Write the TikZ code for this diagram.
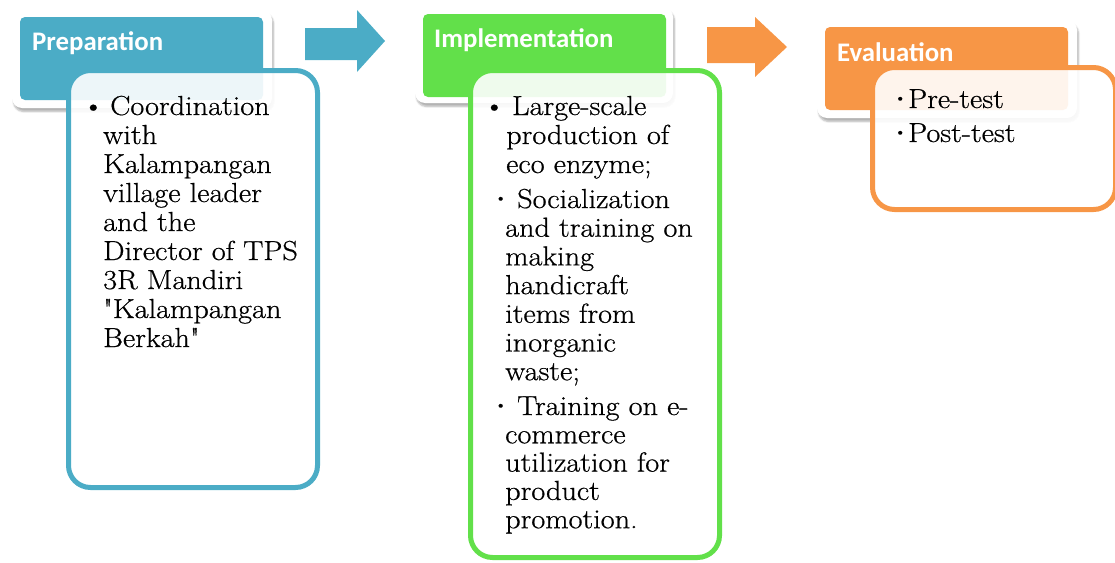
\documentclass[tikz,border=0pt]{standalone}
\usepackage{fontspec}
\usepackage{graphicx}
\usetikzlibrary{shadows.blur}
\newfontfamily\headfont{Carlito}
\newfontfamily\bodyfont[FakeStretch=1.1, FakeBold=0.6]{Latin Modern Roman}

\definecolor{prepc}{HTML}{4BACC6}
\definecolor{implc}{HTML}{62E04A}
\definecolor{evalc}{HTML}{F79646}

% small raised bullet of zero width, centred on the current point
\newcommand{\smallbul}{\makebox[0pt]{\raisebox{4.8pt}{\scalebox{0.6}{\textbullet}}}}

\tikzset{
  headframe/.style={rectangle, rounded corners=10pt, fill=white, inner sep=0pt,
    blur shadow={shadow xshift=1.5pt, shadow yshift=-3.5pt, shadow blur steps=6, shadow opacity=30}},
  headfill/.style={rectangle, rounded corners=5pt, fill=#1, inner sep=0pt,
    minimum width=243pt, minimum height=83pt},
  headlabel/.style={anchor=base west, inner sep=0pt, text=white,
    font=\headfont\bfseries\fontsize{26.8}{30}\selectfont},
  bodybox/.style={rectangle, rounded corners=22pt, draw=#1, line width=5pt,
    fill=white, fill opacity=0.9, inner sep=0pt},
  bodytext/.style={anchor=base west, inner sep=0pt, align=left},
  flowarrow/.style={fill=#1}
}

\begin{document}
\begin{tikzpicture}[x=1pt,y=-1pt]
\useasboundingbox (0,0) rectangle (1115,562);

% ---------- header frames ----------
\node[headframe, minimum width=260pt, minimum height=98pt] (prepframe) at (142,59) {};
\node[headfill=prepc] (prephead) at (141.5,58.5) {};
\node[headlabel] (preplabel) at (32,50) {Preparation};

\node[headframe, minimum width=258pt, minimum height=96pt] (implframe) at (544,55) {};
\node[headfill=implc] (implhead) at (544.5,55.5) {};
\node[headlabel] (impllabel) at (434,47) {Implementation};

\node[headframe, minimum width=260pt, minimum height=98pt] (evalframe) at (947,69) {};
\node[headfill=evalc] (evalhead) at (946.5,68.5) {};
\node[headlabel] (evallabel) at (837,61) {Evaluation};

% ---------- block arrows ----------
\fill[flowarrow=prepc] (305,28) -- (357,28) -- (357,10) -- (385,41) -- (357,72) -- (357,60) -- (305,60) -- cycle;
\fill[flowarrow=evalc] (707,27) -- (755,27) -- (755,17) -- (787,47) -- (755,77) -- (755,63) -- (707,63) -- cycle;

% ---------- content boxes ----------
\node[bodybox=prepc, minimum width=249pt, minimum height=417pt] (prepbody) at (193,279) {};
\node[bodybox=implc, minimum width=249pt, minimum height=487pt] (implbody) at (595,314) {};
\node[bodybox=evalc, minimum width=243pt, minimum height=142pt] (evalbody) at (994,138.5) {};

% ---------- content text ----------
\node[bodytext] (preptext) at (103,115) {\bodyfont\fontsize{27.5}{29}\selectfont
\begin{tabular}[t]{@{}l@{}}
\hspace*{7pt}\llap{\textbullet\hspace{6pt}}Coordination\\
with\\
Kalampangan\\
village leader\\
and the\\
Director of TPS\\
3R Mandiri\\
"Kalampangan\\
Berkah"
\end{tabular}};

\node[bodytext] (impltexta) at (506,115) {\bodyfont\fontsize{27.5}{29}\selectfont
\begin{tabular}[t]{@{}l@{}}
\hspace*{6pt}\llap{\textbullet\hspace{7pt}}Large-scale\\
production of\\
eco enzyme;
\end{tabular}};

\node[bodytext] (impltextb) at (505,208) {\bodyfont\fontsize{27.5}{28.7}\selectfont
\begin{tabular}[t]{@{}l@{}}
\hspace*{12pt}\llap{\smallbul\hspace{16.5pt}}Socialization\\
and training on\\
making\\
handicraft\\
items from\\
inorganic\\
waste;
\end{tabular}};

\node[bodytext] (impltextc) at (505,415) {\bodyfont\fontsize{27.5}{28.3}\selectfont
\begin{tabular}[t]{@{}l@{}}
\hspace*{12pt}\llap{\smallbul\hspace{16.5pt}}Training on e-\\
commerce\\
utilization for\\
product\\
promotion.
\end{tabular}};

\node[bodytext] (evaltext) at (908,108) {\bodyfont\fontsize{27.5}{34}\selectfont
\begin{tabular}[t]{@{}l@{}}
\llap{\smallbul\hspace{8pt}}Pre-test\\
\llap{\smallbul\hspace{8pt}}Post-test
\end{tabular}};
\end{tikzpicture}
\end{document}
